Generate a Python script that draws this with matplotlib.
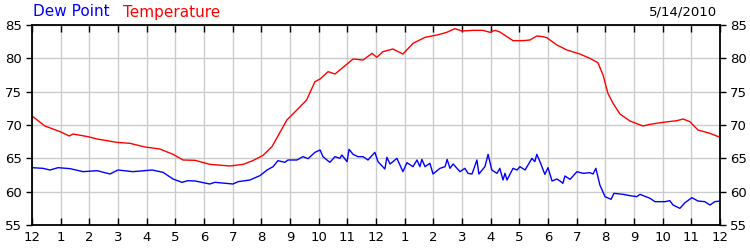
import matplotlib
matplotlib.use("Agg")
import matplotlib.pyplot as plt

temp_hours = [0.0, 0.45, 0.98, 1.3, 1.43, 1.95, 2.27, 2.96, 3.42, 3.94, 4.46, 4.92, 5.27, 5.69, 6.2,
              6.9, 7.37, 7.7, 8.06, 8.37, 8.65, 8.89, 9.24, 9.58, 9.87, 10.05, 10.33, 10.57, 10.74,
              11.2, 11.55, 11.86, 12.03, 12.24, 12.59, 12.94, 13.29, 13.71, 14.13, 14.47, 14.75,
              15.0, 15.38, 15.73, 15.98, 16.15, 16.32, 16.78, 17.13, 17.37, 17.61, 17.82, 17.96,
              18.31, 18.66, 19.11, 19.46, 19.74, 19.92, 20.09, 20.27, 20.51, 20.86, 21.31, 21.56,
              22.01, 22.5, 22.71, 22.95, 23.23, 23.65, 24.0]
temperature = [71.35, 69.85, 69.0, 68.35, 68.65, 68.25, 67.9, 67.4, 67.25, 66.7, 66.4, 65.6, 64.75, 64.7, 64.1,
               63.85, 64.1, 64.65, 65.45, 66.75, 68.9, 70.75, 72.25, 73.75, 76.5, 76.9, 78.0, 77.65, 78.25,
               79.9, 79.75, 80.75, 80.15, 81.0, 81.4, 80.65, 82.25, 83.15, 83.5, 83.9, 84.45,
               84.1, 84.2, 84.2, 83.9, 84.2, 83.95, 82.65, 82.65, 82.75, 83.35, 83.25, 83.1,
               82.0, 81.25, 80.65, 80.0, 79.35, 77.5, 74.75, 73.25, 71.65, 70.6, 69.85, 70.1,
               70.4, 70.65, 70.9, 70.5, 69.25, 68.75, 68.15]

dew_hours = [0.0, 0.38, 0.63, 0.91, 1.33, 1.78, 2.27, 2.72, 3.0, 3.52, 4.19, 4.57, 4.92, 5.23, 5.44,
             5.69, 6.2, 6.38, 7.01, 7.19, 7.6, 7.95, 8.2, 8.41, 8.58, 8.82, 8.93, 9.24, 9.45, 9.63,
             9.87, 10.05, 10.15, 10.39, 10.57, 10.74, 10.81, 10.99, 11.06, 11.2, 11.37, 11.55, 11.72,
             11.96, 12.07, 12.31, 12.38, 12.49, 12.73, 12.94, 13.08, 13.29, 13.43, 13.53, 13.6, 13.71,
             13.88, 13.99, 14.23, 14.41, 14.48, 14.58, 14.69, 14.93, 15.1, 15.21, 15.35, 15.52, 15.59,
             15.8, 15.91, 16.04, 16.22, 16.32, 16.43, 16.5, 16.57, 16.78, 16.92, 17.02, 17.2, 17.44,
             17.54, 17.61, 17.72, 17.89, 18.0, 18.14, 18.31, 18.42, 18.52, 18.59, 18.77, 19.01, 19.22,
             19.46, 19.57, 19.67, 19.81, 19.99, 20.2, 20.3, 20.62, 20.86, 21.1, 21.21, 21.56, 21.73,
             22.08, 22.25, 22.36, 22.6, 22.78, 23.02, 23.23, 23.47, 23.65, 23.82, 24.0]
dew_point = [63.6, 63.5, 63.25, 63.6, 63.45, 63.0, 63.15, 62.65, 63.25, 63.0, 63.25, 62.9, 61.9, 61.4, 61.65,
             61.6, 61.15, 61.4, 61.15, 61.5, 61.75, 62.4, 63.25, 63.75, 64.65, 64.4, 64.75, 64.75, 65.25, 64.95,
             65.9, 66.25, 65.25, 64.4, 65.25, 65.0, 65.5, 64.5, 66.35, 65.6, 65.25, 65.25, 64.75,
             65.9, 64.5, 63.4, 65.15, 64.15, 65.0, 63.0, 64.35, 63.75, 64.75, 63.75, 64.85, 63.75,
             64.25, 62.65, 63.5, 63.75, 64.85, 63.5, 64.15, 63.0, 63.5, 62.75, 62.65, 64.75, 62.65,
             63.75, 65.6, 63.25, 62.75, 63.5, 61.75, 62.75, 61.75, 63.5, 63.25, 63.75, 63.25, 65.0,
             64.5, 65.6, 64.5, 62.6, 63.6, 61.6, 61.9, 61.6, 61.25, 62.35, 61.85, 63.0, 62.75,
             62.85, 62.65, 63.5, 61.0, 59.25, 58.85, 59.75, 59.6, 59.4, 59.25, 59.6, 59.0, 58.5,
             58.5, 58.65, 58.0, 57.5, 58.35, 59.1, 58.6, 58.5, 58.0, 58.5, 58.6]

hour_ticks = list(range(0, 25))
hour_labels = ["12", "1", "2", "3", "4", "5", "6", "7", "8", "9", "10", "11",
               "12", "1", "2", "3", "4", "5", "6", "7", "8", "9", "10", "11", "12"]
y_ticks = [55, 60, 65, 70, 75, 80, 85]

plt.rcParams['font.family'] = ['DejaVu Sans']
fig = plt.figure(figsize=(7.5, 2.5), dpi=100)
ax = fig.add_axes([32/750, 25/250, 688/750, 200/250])

ax.plot(temp_hours, temperature, color='#ff0000', lw=1.0)
ax.plot(dew_hours, dew_point, color='#0000ff', lw=1.0)

ax.set_xlim(0, 24)
ax.set_ylim(55, 85)
ax.set_xticks(hour_ticks)
ax.set_xticklabels(hour_labels)
ax.set_yticks(y_ticks)
ax.grid(True, color='#cccccc', lw=1.0)
ax.set_axisbelow(True)
for s in ax.spines.values():
    s.set_linewidth(1.3)
    s.set_color('black')
ax.tick_params(axis='x', which='both', direction='in', top=True, bottom=True, length=5, width=1,
               labelsize=9.5, pad=4, colors='black')
ax.tick_params(axis='y', which='both', direction='out', left=True, right=True, labelleft=True,
               labelright=True, length=4, width=1, labelsize=9.5, pad=3)

fig.text(33/750, 1 - 12/250, "Dew Point", color='#0000ff', fontsize=11, va='center', ha='left')
fig.text(123/750, 1 - 12/250, "Temperature", color='#ff0000', fontsize=11, va='center', ha='left')
fig.text(717/750, 1 - 12/250, "5/14/2010", color='black', fontsize=9.5, va='center', ha='right')

fig.savefig("out.png", dpi=100)
